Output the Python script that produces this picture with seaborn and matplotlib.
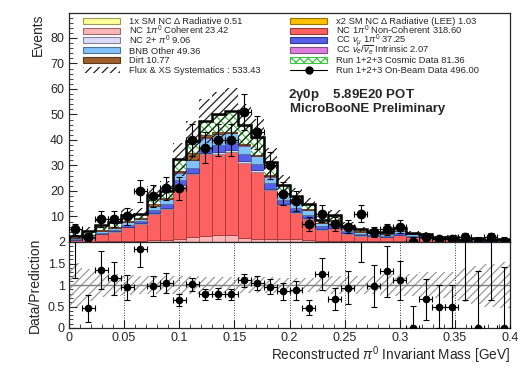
import numpy as np
import pandas as pd
import matplotlib
matplotlib.use("Agg")
import matplotlib.pyplot as plt
import matplotlib.colors as mcolors
from matplotlib.patches import Rectangle
from matplotlib.lines import Line2D
from matplotlib.ticker import MultipleLocator, FuncFormatter
import seaborn as sns

# ---------------- data (34 bins, 0 - 0.4 GeV) ----------------
n_bins = 34
x_lo, x_hi = 0.0, 0.4

delta_rad = [0.01, 0.01, 0.01, 0.01, 0.01, 0.01, 0.01, 0.04, 0.04, 0.04, 0.04, 0.04, 0.04, 0.04, 0.04, 0.04, 0.04,
             0.01, 0.01, 0.01, 0.01, 0, 0, 0, 0, 0, 0, 0, 0, 0, 0, 0, 0, 0]
lee = [0.02, 0.02, 0.02, 0.02, 0.02, 0.02, 0.02, 0.08, 0.08, 0.08, 0.08, 0.08, 0.08, 0.08, 0.08, 0.08, 0.08,
       0.02, 0.02, 0.02, 0.02, 0, 0, 0, 0, 0, 0, 0, 0, 0, 0, 0, 0, 0]
nc_coh = [0.1, 0.1, 0.2, 0.2, 0.3, 0.4, 0.6, 0.8, 1.0, 1.8, 2.4, 2.8, 2.8, 1.5, 1.3, 1.2, 1.1, 1.2, 0.8, 0.5,
          0.4, 0.3, 0.3, 0.2, 0.2, 0.2, 0.1, 0.1, 0.05, 0.05, 0.05, 0.05, 0.05, 0.05]
nc_noncoh = [0.8, 1.45, 2.8, 3.9, 5.45, 6.65, 10.55, 12.26, 20.68, 24.78, 31.88, 31.78, 32.58, 29.58, 26.28,
             19.18, 13.28, 10.07, 8.14, 4.39, 4.89, 3.02, 2.22, 2.07, 1.67, 2.57, 1.82, 1.42, 0.97, 0.97,
             0.17, 0.67, 0.17, 0.57]
nc_2pi0 = [0.05, 0.1, 0.15, 0.15, 0.2, 0.2, 0.3, 0.3, 0.5, 0.5, 0.6, 0.7, 0.7, 0.6, 0.5, 0.5, 0.4, 0.4, 0.35,
           0.3, 0.3, 0.2, 0.2, 0.15, 0.15, 0.15, 0.1, 0.1, 0.05, 0.05, 0.05, 0.05, 0.05, 0.05]
cc_numu = [0.2, 0.4, 0.5, 0.6, 0.8, 0.8, 1.2, 1.5, 2.0, 2.0, 2.5, 2.8, 3.0, 2.6, 2.5, 2.2, 1.8, 1.6, 1.4, 1.0,
           1.2, 0.7, 0.5, 0.4, 0.4, 0.5, 0.4, 0.4, 0.3, 0.3, 0.2, 0.2, 0.2, 0.2]
bnb_other = [0.3, 0.6, 0.8, 0.8, 1.0, 1.0, 1.5, 2.0, 3.0, 3.0, 3.5, 4.3, 3.5, 3.5, 3.0, 2.5, 2.2, 2.0, 1.8,
             1.2, 1.5, 1.0, 0.8, 0.6, 0.6, 0.8, 0.6, 0.5, 0.3, 0.3, 0.2, 0.2, 0.2, 0.2]
cc_nue = [0.02, 0.02, 0.02, 0.02, 0.02, 0.02, 0.02, 0.02, 0.1, 0.1, 0.1, 0.1, 0.1, 0.1, 0.1, 0.1, 0.1, 0.1,
          0.08, 0.08, 0.08, 0.08, 0.08, 0.08, 0.08, 0.08, 0.03, 0.03, 0.03, 0.03, 0.03, 0.03, 0.03, 0.03]
dirt = [0.1, 0.2, 0.2, 0.3, 0.3, 0.3, 0.8, 0.5, 0.6, 2.5, 0.8, 0.6, 0.5, 0.5, 0.4, 0.4, 0.3, 0.3, 0.2, 0.1,
        0.2, 0.1, 0.1, 0.1, 0.1, 0.1, 0.05, 0.05, 0, 0, 0, 0, 0, 0]
cosmic = [0.8, 1.5, 2.0, 1.8, 2.5, 1.5, 3.3, 2.5, 4.5, 4.7, 5.5, 6.8, 8.0, 7.5, 6.8, 5.0, 3.0, 2.5, 2.0, 1.2,
          1.8, 1.0, 0.8, 0.5, 0.6, 1.0, 0.5, 0.4, 0.3, 0.3, 0.2, 0.2, 0.2, 0.2]
on_beam = [5, 2, 9, 9, 10, 20, 18, 21, 21, 40, 37, 40, 40, 51, 43, 30, 19, 16, 7, 11, 7, 6, 11, 4, 5, 6, 0, 2,
           1, 1, 2, 0, 2, 0]
sys_frac = [0.52, 0.37, 0.28, 0.25, 0.23, 0.22, 0.2, 0.2, 0.2, 0.2, 0.18, 0.18, 0.18, 0.18, 0.18, 0.18, 0.17,
            0.17, 0.17, 0.17, 0.2, 0.2, 0.2, 0.2, 0.25, 0.25, 0.25, 0.3, 0.3, 0.3, 0.4, 0.45, 0.5, 0.53]

labels_col1 = ["1x SM NC \u0394 Radiative 0.51", r"NC 1$\pi^0$ Coherent 23.42", r"NC 2+ $\pi^0$ 9.06",
               "BNB Other 49.36", "Dirt 10.77", "Flux & XS Systematics : 533.43"]
labels_col2 = ["x2 SM NC \u0394 Radiative (LEE) 1.03", r"NC 1$\pi^0$ Non-Coherent 318.60",
               r"CC $\nu_\mu$ 1$\pi^0$ 37.25", r"CC $\nu_e/\overline{\nu_e}$ Intrinsic 2.07",
               "Run 1+2+3 Cosmic Data 81.36", "Run 1+2+3 On-Beam Data 496.00"]

# ---------------- style ----------------
sns.set_theme(style="ticks")
plt.rcParams.update({
    "font.family": ["Liberation Sans", "DejaVu Sans"],
    "mathtext.fontset": "custom",
    "mathtext.rm": "Liberation Sans",
    "mathtext.it": "Liberation Sans:italic",
    "mathtext.bf": "Liberation Sans:bold",
    "xtick.direction": "in", "ytick.direction": "in",
    "axes.linewidth": 0.9, "hatch.linewidth": 0.9,
})

colors = {
    "delta": "#ffff99", "lee": "#ffc000", "coh": "#ffb6b6", "noncoh": "#ff6161",
    "nc2": "#dcdcfa", "ccnumu": "#5560ea", "bnb": "#82c2fa", "nue": "#e07ee0",
    "dirt": "#9c5e2c", "cosmic": "#3cc83c",
}
series = {
    "delta": delta_rad, "coh": nc_coh, "noncoh": nc_noncoh, "nc2": nc_2pi0, "ccnumu": cc_numu,
    "bnb": bnb_other, "nue": cc_nue, "dirt": dirt, "cosmic": cosmic, "lee": lee,
}
stack_bottom_to_top = ["delta", "coh", "noncoh", "nc2", "ccnumu", "bnb", "nue", "dirt", "cosmic", "lee"]


def darker(c, f=0.6):
    r, g, b = mcolors.to_rgb(c)
    return (r * f, g * f, b * f)


edges = np.linspace(x_lo, x_hi, n_bins + 1)
centers = 0.5 * (edges[:-1] + edges[1:])
binw = edges[1] - edges[0]

rows = []
for name in stack_bottom_to_top:
    for c, v in zip(centers, series[name]):
        rows.append((c, v, name))
df = pd.DataFrame(rows, columns=["x", "w", "comp"])

total = np.zeros(n_bins)
for name in stack_bottom_to_top:
    total += np.array(series[name])
data = np.array(on_beam, dtype=float)
sysf = np.array(sys_frac)

W, H = 521, 367
fig = plt.figure(figsize=(W / 100, H / 100), dpi=100)
ax = fig.add_axes([69 / W, 1 - 242 / H, 441 / W, 229 / H])
ax2 = fig.add_axes([69 / W, 1 - 328 / H, 441 / W, 86 / H])

# stacked histogram (seaborn stacks the first hue level on top)
sns.histplot(data=df, x="x", weights="w", hue="comp", hue_order=stack_bottom_to_top[::-1],
             multiple="stack", bins=n_bins, binrange=(x_lo, x_hi), palette=colors, element="bars",
             fill=True, alpha=1, legend=False, ax=ax, linewidth=0.6, shrink=1)
for p in ax.patches:
    fc = mcolors.to_rgb(p.get_facecolor()[:3])
    for name, col in colors.items():
        if np.allclose(fc, mcolors.to_rgb(col), atol=0.01):
            if name == "cosmic":
                p.set_facecolor("white")
                p.set_edgecolor(col)
                p.set_hatch("xxxx")
                p.set_linewidth(0)
            else:
                p.set_edgecolor(darker(col))
            break

# systematics band
tot_ext = np.append(total, total[-1])
err_ext = np.append(total * sysf, total[-1] * sysf[-1])
ax.fill_between(edges, tot_ext - err_ext, tot_ext + err_ext, step="post", facecolor="none",
                edgecolor="#222222", hatch="////", linewidth=0, zorder=3)
ax.stairs(total, edges, color="black", linewidth=1.8, zorder=4)

err_lo = np.sqrt(data)
err_hi = np.where(data > 0, np.sqrt(data), 1.84)
ax.errorbar(centers, data, yerr=[err_lo, err_hi], xerr=binw / 2, fmt="o", color="black", ms=6,
            capsize=2.2, elinewidth=0.8, capthick=0.8, zorder=5)

ax.set_xlim(x_lo, x_hi)
ax.set_ylim(0, 89.8)
ax.set_xlabel("")
ax.set_ylabel("Events", loc="top", fontsize=10)
ax.xaxis.set_major_locator(MultipleLocator(0.05))
ax.xaxis.set_minor_locator(MultipleLocator(0.01))
ax.yaxis.set_major_locator(MultipleLocator(10))
ax.yaxis.set_minor_locator(MultipleLocator(2))
ax.yaxis.set_major_formatter(FuncFormatter(lambda v, p: "" if v == 0 else "%g" % v))
ax.tick_params(axis="x", labelbottom=False)
ax.tick_params(which="major", length=6, width=0.8, labelsize=9)
ax.tick_params(which="minor", length=3, width=0.6)

# legend (two fixed columns, drawn in figure pixel positions)
row_y = [21.0, 30.7, 40.4, 50.1, 59.8, 69.5]
col_x = [(82.7, 120.0, 129.0), (290.0, 327.0, 336.0)]
col1_style = [("fill", "delta"), ("fill", "coh"), ("fill", "nc2"), ("fill", "bnb"), ("fill", "dirt"),
              ("sys", None)]
col2_style = [("fill", "lee"), ("fill", "noncoh"), ("fill", "ccnumu"), ("fill", "nue"), ("cosmic", None),
              ("data", None)]


def fx(px):
    return px / W


def fy(py):
    return 1 - py / H


for (x0, x1, xt), styles, labels in zip(col_x, [col1_style, col2_style], [labels_col1, labels_col2]):
    for y, (kind, key), lab in zip(row_y, styles, labels):
        if kind == "fill":
            fig.add_artist(Rectangle((fx(x0), fy(y + 3)), fx(x1 - x0), 6 / H, transform=fig.transFigure,
                                     facecolor=colors[key], edgecolor=darker(colors[key]), lw=0.8))
        elif kind == "cosmic":
            fig.add_artist(Rectangle((fx(x0), fy(y + 3)), fx(x1 - x0), 6 / H, transform=fig.transFigure,
                                     facecolor="white", edgecolor=colors["cosmic"], hatch="xxxx", lw=0.8))
        elif kind == "sys":
            fig.add_artist(Rectangle((fx(x0), fy(y + 3)), fx(x1 - x0), 6 / H, transform=fig.transFigure,
                                     facecolor="none", edgecolor="#222222", hatch="////", lw=0))
        else:
            fig.add_artist(Line2D([fx(x0), fx(x1)], [fy(y), fy(y)], transform=fig.transFigure,
                                  color="black", lw=0.8))
            fig.add_artist(Line2D([fx(0.5 * (x0 + x1))], [fy(y)], transform=fig.transFigure,
                                  color="black", marker="o", ms=5, lw=0))
        fig.text(fx(xt), fy(y + 3.4), lab, fontsize=6.75, ha="left", va="baseline")

ax.text(0.497, 0.642, "2$\\mathbf{\\gamma}$0p    5.89E20 POT", transform=ax.transAxes,
        fontsize=9.5, fontweight="bold", va="center", ha="left")
ax.text(0.501, 0.581, "MicroBooNE Preliminary", transform=ax.transAxes,
        fontsize=9.5, fontweight="bold", va="center", ha="left")

# ratio panel
ratio = data / total
r_lo = err_lo / total
r_hi = err_hi / total
ax2.fill_between(edges, 1 - np.append(sysf, sysf[-1]), 1 + np.append(sysf, sysf[-1]), step="post",
                 facecolor="none", edgecolor="#9a9a9a", hatch="////", linewidth=0, zorder=1)
ax2.axhline(1, color="#808080", lw=1.0, zorder=2)
for xv in [0.05, 0.1, 0.15, 0.2, 0.25, 0.3, 0.35]:
    ax2.axvline(xv, color="black", lw=0.6, ls=(0, (1, 2)), zorder=1)
ax2.errorbar(centers, ratio, yerr=[r_lo, r_hi], xerr=binw / 2, fmt="o", color="black", ms=4.5,
             capsize=2.2, elinewidth=0.8, capthick=0.8, zorder=5)
ax2.set_xlim(x_lo, x_hi)
ax2.set_ylim(0, 2)
ax2.xaxis.set_major_locator(MultipleLocator(0.05))
ax2.xaxis.set_minor_locator(MultipleLocator(0.01))
ax2.yaxis.set_major_locator(MultipleLocator(0.5))
ax2.yaxis.set_minor_locator(MultipleLocator(0.1))
ax2.xaxis.set_major_formatter(FuncFormatter(lambda v, p: "%g" % round(v, 3)))
ax2.yaxis.set_major_formatter(FuncFormatter(lambda v, p: "%g" % v))
ax2.tick_params(which="major", length=6, width=0.8, labelsize=9, pad=3)
ax2.tick_params(which="minor", length=3, width=0.6)
ax2.set_xlabel(r"Reconstructed $\pi^0$ Invariant Mass [GeV]", loc="right", fontsize=9.8, labelpad=0)
ax2.set_ylabel("Data/Prediction", fontsize=10)

fig.savefig("out.png", dpi=100)
